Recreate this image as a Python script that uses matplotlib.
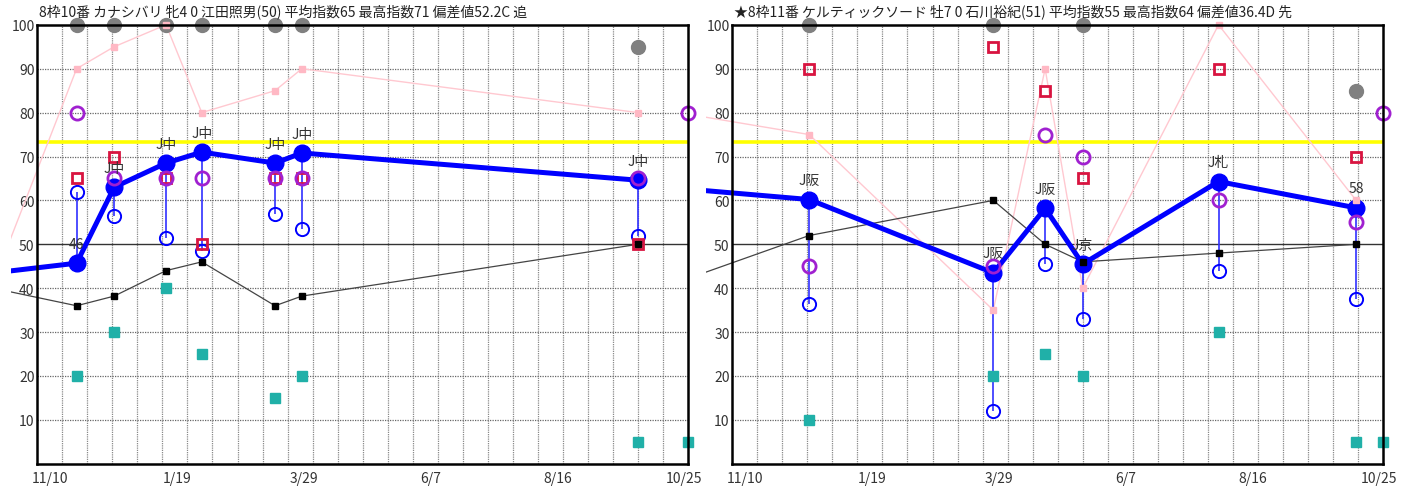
import matplotlib
matplotlib.use('Agg')
import matplotlib.pyplot as plt
import numpy as np
from matplotlib.transforms import Bbox, TransformedBbox

plt.rcParams['font.family'] = ['Noto Sans CJK JP', 'DejaVu Sans']

# x axis: days since chart start (one year window)
x_ticks = [7, 78, 149, 220, 291, 362]
x_labels = ['11/10', '1/19', '3/29', '6/7', '8/16', '10/25']
final_day = 364

# ---- left horse
title_L = '8枠10番 カナシバリ 牝4 0 江田照男(50) 平均指数65 最高指数71 偏差値52.2C 追'
prev_L = {'day': -20, 'idx': 43.7, 'black': 39.6, 'pink': 46}
days_L = [22, 43, 72, 92, 133, 148, 336]
idx_L = [45.7, 63.0, 68.5, 71.0, 68.5, 70.8, 64.6]
labels_L = ['46', 'J中', 'J中', 'J中', 'J中', 'J中', 'J中']
black_L = [36, 38.2, 44, 46, 36, 38.2, 50]
pink_L = [90, 95, 100, 80, 85, 90, 80]
gray_L = [100, 100, 100, 100, 100, 100, 95]
red_L = [65, 70, 65, 50, 65, 65, 50]
purple_L = [80, 65, 65, 65, 65, 65, 65]
open_L = [62, 56.5, 51.5, 48.5, 57, 53.5, 52]
teal_L = [20, 30, 40, 25, 15, 20, 5]
final_purple_L = 80
final_teal_L = 5

# ---- right horse
title_R = '★8枠11番 ケルティックソード 牡7 0 石川裕紀(51) 平均指数55 最高指数64 偏差値36.4D 先'
prev_R = {'day': -20, 'idx': 62.4, 'black': 42.9, 'pink': 79.3}
days_R = [43, 146, 175, 196, 272, 349]
idx_R = [60.2, 43.5, 58.2, 45.5, 64.3, 58.3]
labels_R = ['J阪', 'J阪', 'J阪', 'J京', 'J札', '58']
black_R = [52, 60, 50, 46, 48, 50]
pink_R = [75, 35, 90, 40, 100, 60]
gray_R = [100, 100, np.nan, 100, np.nan, 85]
red_R = [90, 95, 85, 65, 90, 70]
purple_R = [45, 45, 75, 70, 60, 55]
open_R = [36.5, 12, 45.5, 33, 44, 37.5]
teal_R = [10, 20, 25, 20, 30, 5]
final_purple_R = 80
final_teal_R = 5

yellow_level = 73.2

W, H = 1401, 489
fig = plt.figure(figsize=(W / 100, H / 100), dpi=100)


def panel(left_px, title, prev, days, idx, labels, black, pink, gray, red,
          purple, opn, teal, fpurple, fteal):
    ax = fig.add_axes([left_px / W, 24.2 / H, 650.7 / W, 439 / H])
    ax.set_xlim(0, final_day)
    ax.set_ylim(0, 100)

    # grid
    for d in np.arange(14, final_day, 14):
        ax.axvline(d, color='#8a8a8a', lw=0.9, ls=(0, (1, 0.8)), zorder=1)
    for v in range(10, 100, 10):
        if v == 50:
            ax.axhline(v, color='#333333', lw=1.0, zorder=1)
        else:
            ax.axhline(v, color='#666666', lw=0.9, ls=(0, (1, 1)), zorder=1)
    ax.axhline(yellow_level, color='#ffff00', lw=2.6, zorder=2)

    # lines may run a little past the left spine (previous race)
    box = TransformedBbox(Bbox([[(left_px - 26) / W, 24.2 / H],
                                [(left_px + 650.7) / W, 463.2 / H]]),
                          fig.transFigure)
    xs = [prev['day']] + days
    lines = []
    lines += ax.plot(xs, [prev['pink']] + pink, color='#ffc8d0', lw=1.0, zorder=3)
    lines += ax.plot(xs, [prev['black']] + black, color='#444444', lw=0.9, zorder=4)
    lines += ax.plot(xs, [prev['idx']] + idx, color='#0000ff', lw=3.6, zorder=5)
    for ln in lines:
        ln.set_clip_path(None)
        ln.set_clip_box(box)

    # vertical link between index dot and open circle
    ax.vlines(days, idx, opn, color='#3030ff', lw=1.2, zorder=4.5)
    ax.plot(days, idx, 'o', color='#0000ff', ms=12, zorder=6, clip_on=False)

    kw = dict(ls='none', clip_on=False)
    ax.plot(days, gray, 'o', color='#808080', ms=10, zorder=5, **kw)
    ax.plot(days, opn, 'o', mfc='none', mec='#0000ff', mew=1.4, ms=9.5, zorder=7, **kw)
    ax.plot(days, red, 's', mfc='none', mec='#d81440', mew=2.0, ms=7, zorder=7, **kw)
    ax.plot(days + [final_day], purple + [fpurple], 'o', mfc='none', mec='#a020d0',
            mew=2.0, ms=9.5, zorder=8, **kw)
    ax.plot(days + [final_day], teal + [fteal], 's', color='#20b0a8', ms=7, zorder=7, **kw)
    ax.plot(days, black, 's', color='#000000', ms=4.5, zorder=9, **kw)
    ax.plot(days, pink, 's', color='#ffb8c4', ms=4.5, zorder=9, **kw)

    for d, v, t in zip(days, idx, labels):
        ax.annotate(t, (d, v), xytext=(0, 14), textcoords='offset points',
                    ha='center', va='center', fontsize=10, color='#333333', zorder=10)

    ax.set_xticks(x_ticks)
    ax.set_xticklabels(x_labels)
    ax.set_yticks(range(10, 101, 10))
    ax.tick_params(length=0, labelsize=10, labelcolor='#333333')
    ax.tick_params(axis='x', pad=5)
    ax.tick_params(axis='y', pad=2)
    for s in ax.spines.values():
        s.set_linewidth(1.8)
        s.set_color('black')
        s.set_zorder(11)

    fig.text((left_px + 2) / W, 1 - 12 / H, title, ha='left', va='center',
             fontsize=10, color='#222222', zorder=12)
    return ax


panel(37.3, title_L, prev_L, days_L, idx_L, labels_L, black_L, pink_L, gray_L,
      red_L, purple_L, open_L, teal_L, final_purple_L, final_teal_L)
panel(732.3, title_R, prev_R, days_R, idx_R, labels_R, black_R, pink_R, gray_R,
      red_R, purple_R, open_R, teal_R, final_purple_R, final_teal_R)

fig.savefig('out.png', dpi=100)
